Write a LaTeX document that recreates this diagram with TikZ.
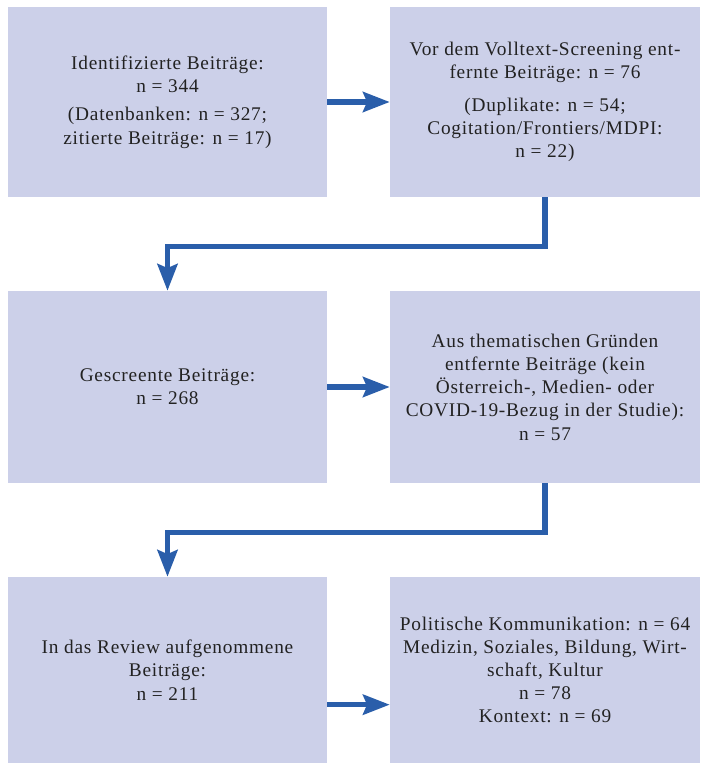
\documentclass[tikz,border=0pt]{standalone}
\usepackage{fontspec}
\setmainfont{Liberation Serif}[LetterSpace=4]
\usepackage{tikz}
\usetikzlibrary{arrows.meta}

\definecolor{boxfill}{RGB}{204,208,233}
\definecolor{arrowblue}{RGB}{42,94,170}
\definecolor{textgrey}{RGB}{34,34,34}

\tikzset{
    stage/.style={fill=boxfill, text=textgrey, align=center, inner sep=0pt,
        font=\fontsize{14.5}{17.4}\selectfont},
    flow/.style={draw=arrowblue, line width=4pt,
        -{Stealth[length=20pt, width=15pt, inset=3pt]}}
}

\begin{document}
\begin{tikzpicture}[x=0.75pt, y=-0.75pt]
            \useasboundingbox (0,0) rectangle (700,763);

            \node[stage, minimum width=239.25pt, minimum height=142.5pt] (identified) at (167.5,102)
                {Identifizierte Beiträge:\\n = 344\\[4pt](Datenbanken: n = 327;\\zitierte Beiträge: n = 17)};
            \node[stage, minimum width=232.5pt, minimum height=142.5pt] (removed) at (545,102)
                {Vor dem Volltext-Screening ent-\\fernte Beiträge: n = 76\\[7pt](Duplikate: n = 54;\\Cogitation/Frontiers/MDPI:\\n = 22)};

            \node[stage, minimum width=239.25pt, minimum height=144pt] (screened) at (167.5,387)
                {Gescreente Beiträge:\\n = 268};
            \node[stage, minimum width=232.5pt, minimum height=144pt] (thematic) at (545,387)
                {Aus thematischen Gründen\\entfernte Beiträge (kein\\Österreich-, Medien- oder\\COVID-19-Bezug in der Studie):\\n = 57};

            \node[stage, minimum width=239.25pt, minimum height=139.5pt] (included) at (167.5,670)
                {In das Review aufgenommene\\Beiträge:\\n = 211};
            \node[stage, minimum width=232.5pt, minimum height=139.5pt] (topics) at (545,670)
                {Politische Kommunikation: n = 64\\Medizin, Soziales, Bildung, Wirt-\\schaft, Kultur\\n = 78\\Kontext: n = 69};

            \draw[flow] (identified.east) -- (removed.west);
            \draw[flow] (screened.east) -- (thematic.west);
            \draw[flow] ([yshift=-26pt]included.east) -- ([yshift=-26pt]topics.west);

            \draw[flow] (removed.south) -- ++(0,49) -| (screened.north);
            \draw[flow] (thematic.south) -- ++(0,49) -| (included.north);
        \end{tikzpicture}
\end{document}
